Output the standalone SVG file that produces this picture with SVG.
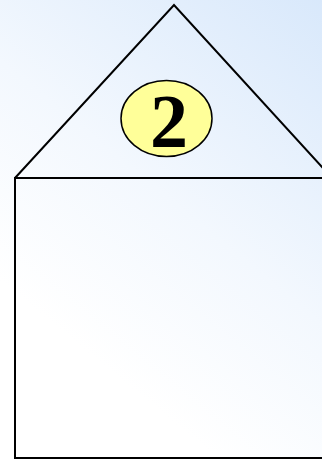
<svg xmlns="http://www.w3.org/2000/svg" width="322" height="459" viewBox="0 0 322 459">
<defs>
<linearGradient id="bg" x1="60" y1="330" x2="330" y2="0" gradientUnits="userSpaceOnUse">
<stop offset="0" stop-color="#ffffff"/>
<stop offset="0.4" stop-color="#f3f8fe"/>
<stop offset="1" stop-color="#d8e8fb"/>
</linearGradient>
<style>
.ln{fill:none;stroke:#000;stroke-width:2;stroke-linejoin:miter}
.badge{fill:#ffff99;stroke:#000;stroke-width:1.5}
.num{font-family:"Liberation Serif","Times New Roman",serif;font-weight:bold;font-size:76px;fill:#000;text-anchor:middle}
</style>
</defs>
<rect x="0" y="0" width="322" height="459" fill="url(#bg)"/>
<g id="house">
<polyline class="ln" points="15,178 174,5 332,178"/>
<polyline class="ln" points="340,178 15,178 15,458 340,458"/>
</g>
<g id="badge">
<ellipse class="badge" cx="166.5" cy="118.5" rx="45.5" ry="38"/>
<text class="num" x="169" y="147">2</text>
</g>
</svg>
